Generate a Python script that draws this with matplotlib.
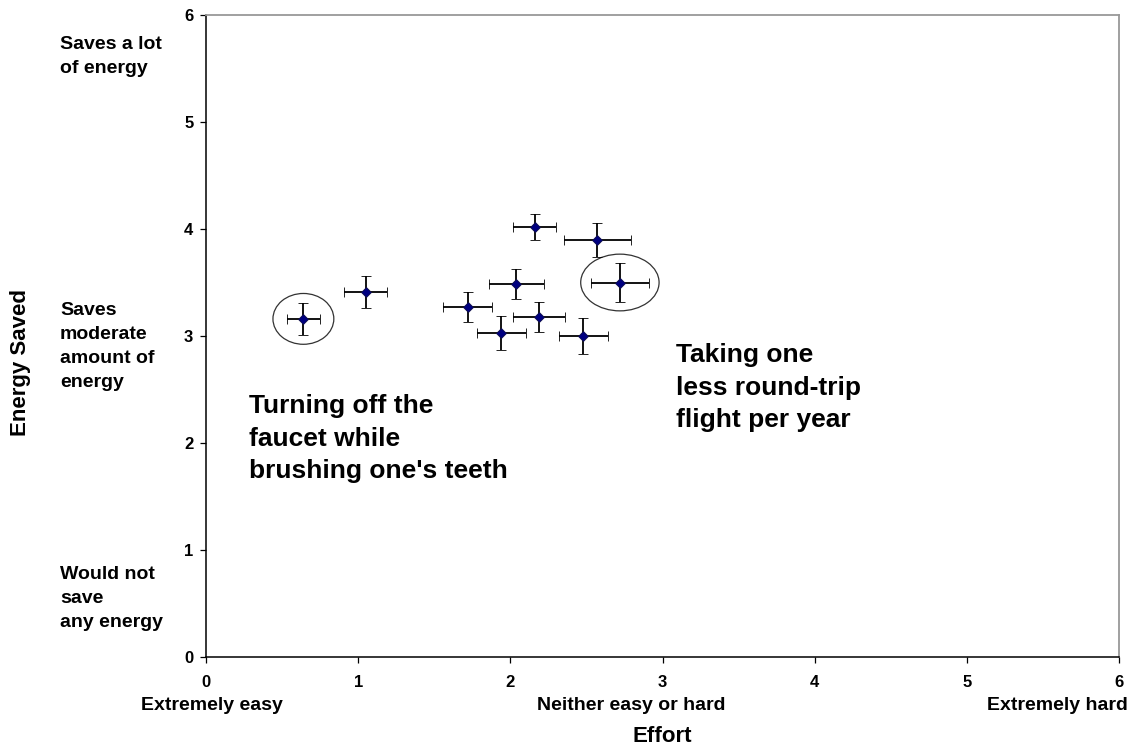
import matplotlib
matplotlib.use("Agg")
from matplotlib import pyplot as plt
from matplotlib.patches import Ellipse

# mean ratings per behaviour, with error bars on both axes
effort = [0.64, 1.05, 1.72, 1.94, 2.04, 2.16, 2.19, 2.48, 2.57, 2.72]
energy_saved = [3.16, 3.41, 3.27, 3.03, 3.49, 4.02, 3.18, 3.00, 3.90, 3.50]
effort_err = [0.11, 0.14, 0.16, 0.16, 0.18, 0.14, 0.17, 0.16, 0.22, 0.19]
energy_err = [0.15, 0.15, 0.14, 0.16, 0.14, 0.12, 0.14, 0.17, 0.16, 0.18]

# behaviours that get a ring and a caption
highlighted = [0, 9]
ring_sizes = [(0.40, 0.475), (0.515, 0.53)]
captions = ["Turning off the\nfaucet while\nbrushing one's teeth",
            "Taking one\nless round-trip\nflight per year"]

ticks = [0, 1, 2, 3, 4, 5, 6]
effort_scale = ["Extremely easy", "Neither easy or hard", "Extremely hard"]
energy_scale = ["Saves a lot\nof energy", "Saves\nmoderate\namount of\nenergy",
                "Would not\nsave\nany energy"]

plt.rcParams['font.family'] = ['Liberation Sans', 'DejaVu Sans']
plt.rcParams['font.weight'] = 'bold'

W, H = 1138, 751
fig = plt.figure(figsize=(W / 100, H / 100), dpi=100)
ax = fig.add_axes([206 / W, 1 - 657 / H, (1119 - 206) / W, (657 - 15) / H])


def px(x, y):
    """pixel position (top-left origin) -> figure fraction"""
    return x / W, 1 - y / H


ax.errorbar(effort, energy_saved, xerr=effort_err, yerr=energy_err,
            fmt='D', ms=5, mfc='#000080', mec='#10104a', mew=0.6,
            ecolor='black', elinewidth=1.3, capsize=3.4, capthick=1.3, zorder=3)

for idx, (w, h) in zip(highlighted, ring_sizes):
    ax.add_patch(Ellipse((effort[idx], energy_saved[idx]), w, h,
                         fill=False, edgecolor='#333333', lw=0.9, zorder=2))

ax.set_xlim(0, 6)
ax.set_ylim(0, 6)
ax.set_xticks(ticks)
ax.set_yticks(ticks)
ax.tick_params(axis='x', direction='out', length=4.2, width=0.9, pad=9, labelsize=12)
ax.tick_params(axis='y', direction='out', length=4.1, width=0.9, pad=5, labelsize=12)
for lbl in ax.get_xticklabels() + ax.get_yticklabels():
    lbl.set_fontweight('bold')

for side in ['left', 'bottom']:
    ax.spines[side].set_color('black')
    ax.spines[side].set_linewidth(1.1)
for side in ['top', 'right']:
    ax.spines[side].set_color('#999999')
    ax.spines[side].set_linewidth(1.3)

# captions for the ringed behaviours
fig.text(*px(249, 394), captions[0], fontsize=19, fontweight='bold',
         ha='left', va='top', linespacing=1.45)
fig.text(*px(676, 343), captions[1], fontsize=19, fontweight='bold',
         ha='left', va='top', linespacing=1.45)

# verbal anchors of the rating scales
for txt, y in zip(energy_scale, [36, 302, 566]):
    fig.text(*px(60, y), txt, fontsize=14, fontweight='bold',
             ha='left', va='top', linespacing=1.55)
for txt, x in zip(effort_scale, [141, 537, 987]):
    fig.text(*px(x, 697), txt, fontsize=14, fontweight='bold',
             ha='left', va='top')

fig.text(*px(21, 362), "Energy Saved", fontsize=16, fontweight='bold',
         rotation=90, ha='center', va='center')
fig.text(*px(662, 737), "Effort", fontsize=16, fontweight='bold',
         ha='center', va='center')

fig.savefig("out.png", dpi=100)
